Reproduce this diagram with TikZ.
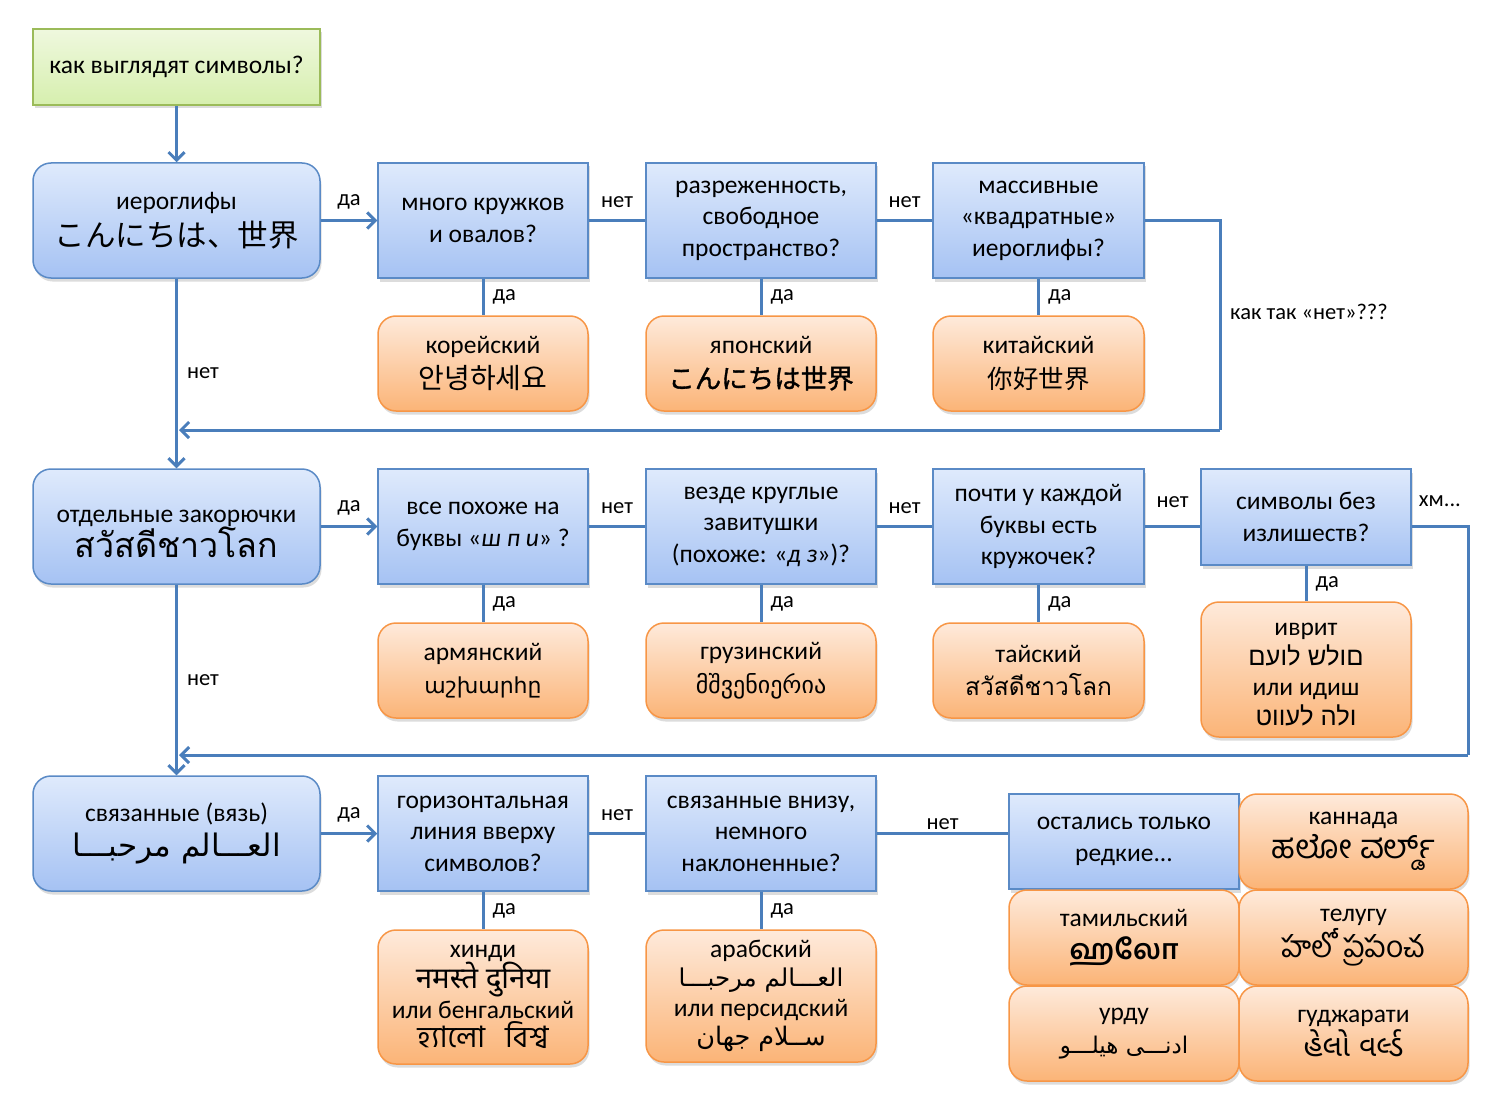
\documentclass[tikz,border=0pt]{standalone}
\usepackage{fontspec}
\setmainfont{Carlito}
\newfontfamily\jpfont{Noto Sans CJK JP}
\newfontfamily\jpfontb[FakeBold=1.3]{Noto Sans CJK JP}
\newfontfamily\krfont{Noto Sans CJK KR}
\newfontfamily\scfont{Noto Sans CJK SC}
\newfontfamily\thaifont[Script=Thai]{Loma}
\newfontfamily\armfont{DejaVu Sans}
\newfontfamily\geofont{DejaVu Sans}
\newfontfamily\hebfont[Script=Hebrew]{Liberation Sans}
\newfontfamily\arfont[Script=Arabic]{DejaVu Sans}
\newfontfamily\devfont[Script=Devanagari]{Noto Sans}
\newfontfamily\bnfont[Script=Bengali]{Hind Siliguri}
\newfontfamily\knfont[Script=Kannada]{Hind Mysuru}
\newfontfamily\tafont[Script=Tamil]{Hind Madurai}
\newfontfamily\tefont[Script=Telugu]{Hind Guntur}
\newfontfamily\gufont[Script=Gujarati]{Noto Sans Gujarati UI}
\TeXXeTstate=1
\usetikzlibrary{arrows.meta,shadows}
\definecolor{bluetop}{HTML}{DFEAFC}
\definecolor{bluebot}{HTML}{A5C2F3}
\definecolor{blueline}{HTML}{5A8AC6}
\definecolor{orangetop}{HTML}{FEEADB}
\definecolor{orangebot}{HTML}{FBB477}
\definecolor{orangeline}{HTML}{F79646}
\definecolor{greentop}{HTML}{EFF8DE}
\definecolor{greenbot}{HTML}{D6EFAE}
\definecolor{greenline}{HTML}{9BBB59}
\definecolor{linkblue}{HTML}{4A7EBB}
\tikzset{
  every node/.style={font=\fontsize{25.5}{31.5}\selectfont, text=black},
  shad/.style={drop shadow={shadow xshift=1.5pt, shadow yshift=-3.5pt, opacity=0.28}},
  qbox/.style={shad, draw=blueline, line width=1.5pt, top color=bluetop, bottom color=bluebot,
    minimum width=210pt, minimum height=115pt, align=center, inner sep=2pt},
  lbox/.style={qbox, rounded corners=18pt, minimum width=287pt},
  abox/.style={shad, draw=orangeline, line width=1.5pt, top color=orangetop, bottom color=orangebot,
    rounded corners=18pt, minimum width=210pt, minimum height=95pt, align=center, inner sep=2pt},
  gbox/.style={shad, draw=greenline, line width=1.5pt, top color=greentop, bottom color=greenbot,
    minimum width=287pt, minimum height=76pt, align=center},
  conn/.style={draw=linkblue, line width=3pt},
  arr/.style={conn, -{Straight Barb[length=8pt,width=16pt]}},
  lbl/.style={font=\fontsize{22.5}{26}\selectfont, inner sep=1pt},
}
\begin{document}
\begin{tikzpicture}[x=1pt,y=-1pt]
\useasboundingbox (0,0) rectangle (1511,1107);

% ---------- nodes ----------
\node[gbox] (top) at (176.5,67) {как выглядят символы?};

\node[lbox] (A1) at (176.5,220.5) {иероглифы\\[6pt]{\jpfont\fontsize{30.5}{34}\selectfont こんにちは、世界}};
\node[qbox] (Q1) at (483,220.5) {много кружков\\и овалов?};
\node[qbox, minimum width=230pt] (Q2) at (761,220.5) {разреженность,\\свободное\\пространство?};
\node[qbox, minimum width=211pt] (Q3) at (1038.5,220.5) {массивные\\«квадратные»\\иероглифы?};

\node[abox] (K) at (483,363.5) {корейский\\[3pt]{\krfont\fontsize{28}{30}\selectfont 안녕하세요}};
\node[abox, minimum width=230pt] (J) at (761,363.5) {японский\\[3pt]{\jpfontb\fontsize{26.5}{30}\selectfont こんにちは世界}};
\node[abox, minimum width=211pt] (C) at (1038.5,363.5) {китайский\\[3pt]{\scfont\fontsize{25.5}{30}\selectfont 你好世界}};

\node[lbox] (A2) at (176.5,526.5) {\rule{0pt}{27pt}отдельные закорючки\\[-1pt]{\thaifont\fontsize{34}{38}\selectfont สวัสดีชาวโลก}};
\node[qbox] (Q4) at (483,526.5) {все похоже на\\буквы «\textit{ш п и}» ?};
\node[qbox, minimum width=230pt] (Q5) at (761,526.5) {везде круглые\\завитушки\\(похоже: «\textit{д з}»)?};
\node[qbox, minimum width=211pt] (Q6) at (1038.5,526.5) {почти у каждой\\буквы есть\\кружочек?};
\node[qbox, minimum height=96pt] (Q7) at (1306,517) {символы без\\излишеств?};

\node[abox] (Arm) at (483,670.5) {армянский\\[2pt]{\armfont\fontsize{22}{30}\selectfont աշխարհը}};
\node[abox, minimum width=230pt] (Geo) at (761,670.5) {грузинский\\[2pt]{\geofont\fontsize{24}{30}\selectfont მშვენიერია}};
\node[abox, minimum width=211pt] (Th) at (1038.5,670.5) {тайский\\[2pt]{\thaifont\fontsize{24.5}{30}\selectfont สวัสดีชาวโลก}};
\node[abox, minimum height=135pt, font=\fontsize{25.5}{30}\selectfont] (Heb) at (1306,669.5) {\rule{0pt}{23pt}иврит\\{\hebfont\beginR םולש לועם\endR}\\или идиш\\{\hebfont\beginR ולה לעווט\endR}};

\node[lbox] (A3) at (176.5,833.5) {связанные (вязь)\\[4pt]{\arfont\fontsize{31}{34}\selectfont\beginR العـــالم مرحبـــا\endR}};
\node[qbox] (Q8) at (483,833.5) {горизонтальная\\линия вверху\\символов?};
\node[qbox, minimum width=230pt] (Q9) at (761,833.5) {связанные внизу,\\немного\\наклоненные?};

\node[abox, minimum height=134pt, font=\fontsize{25.5}{29.5}\selectfont] (Hi) at (483,997) {хинди\\{\devfont\fontsize{29.5}{29.5}\selectfont नमस्ते दुनिया}\\или бенгальский\\{\bnfont\fontsize{29.5}{29.5}\selectfont হ্যালো\hspace{20pt}বিশ্ব}};
\node[abox, minimum width=230pt, minimum height=132pt, font=\fontsize{25.5}{29.5}\selectfont] (Ar) at (761,996) {арабский\\{\arfont\fontsize{24.5}{29.5}\selectfont\beginR العـــالم مرحبـــا\endR}\\или персидский\\{\arfont\fontsize{25.5}{29.5}\selectfont\beginR ســلام جهان\endR}};

\node[qbox, minimum width=230pt, minimum height=95pt] (R) at (1124,841.5) {остались только\\редкие...};
\node[abox, minimum width=229pt] (Kn) at (1353.5,841.5) {каннада\\[2pt]{\knfont\fontsize{33}{30}\selectfont ಹಲೋ ವರ್ಲ್ಡ್}};
\node[abox, minimum width=230pt] (Ta) at (1124,937.5) {тамильский\\[2pt]{\tafont\bfseries\fontsize{28}{30}\selectfont ஹலோ}};
\node[abox, minimum width=229pt] (Te) at (1353.5,937.5) {телугу\\[2pt]{\tefont\fontsize{30}{30}\selectfont హలో ప్రపంచ}};
\node[abox, minimum width=230pt] (Ur) at (1124,1033.5) {урду\\[2pt]{\arfont\fontsize{23}{30}\selectfont\beginR ادنـــی هیلـــو\endR}};
\node[abox, minimum width=229pt] (Gu) at (1353.5,1033.5) {гуджарати\\[2pt]{\gufont\fontsize{30}{30}\selectfont હેલો વર્લ્ડ}};

% ---------- coordinates ----------
\coordinate (c1) at (1220,220.5);
\coordinate (c2) at (1220,430);
\coordinate (c3) at (179,430);
\coordinate (c4) at (1468,526.5);
\coordinate (c5) at (1468,755);
\coordinate (c6) at (179,755);

% ---------- connectors ----------
\draw[arr] (top) -- (A1);
\draw[arr] (A1) -- (Q1) node[lbl, midway, above=9pt] {да};
\draw[conn] (Q1) -- (Q2) node[lbl, midway, above=10pt] {нет};
\draw[conn] (Q2) -- (Q3) node[lbl, midway, above=10pt] {нет};
\draw[conn] (Q3.east) -- (c1) -- (c2);
\draw[arr] (c2) -- (c3);
\draw[conn] (Q1) -- (K) node[lbl, midway, right=7pt] {да};
\draw[conn] (Q2) -- (J) node[lbl, midway, right=7pt] {да};
\draw[conn] (Q3) -- (C) node[lbl, midway, right=7pt] {да};
\draw[arr] (A1) -- (A2) node[lbl, pos=0.5, right=8pt] {нет};
\node[lbl, anchor=west] (kak) at (1229,312) {как так «нет»???};

\draw[arr] (A2) -- (Q4) node[lbl, midway, above=9pt] {да};
\draw[conn] (Q4) -- (Q5) node[lbl, midway, above=10pt] {нет};
\draw[conn] (Q5) -- (Q6) node[lbl, midway, above=10pt] {нет};
\draw[conn] (Q6.east) -- (Q6.east -| Q7.west) node[lbl, midway, above=16pt] {нет};
\draw[conn] (Q7.east |- c4) -- (c4) node[lbl, midway, above=17pt] {хм...} -- (c5);
\draw[arr] (c5) -- (c6);
\draw[conn] (Q4) -- (Arm) node[lbl, midway, right=7pt] {да};
\draw[conn] (Q5) -- (Geo) node[lbl, midway, right=7pt] {да};
\draw[conn] (Q6) -- (Th) node[lbl, midway, right=7pt] {да};
\draw[conn] (Q7) -- (Heb) node[lbl, midway, right=7pt] {да};
\draw[arr] (A2) -- (A3) node[lbl, pos=0.5, right=8pt] {нет};

\draw[arr] (A3) -- (Q8) node[lbl, midway, above=9pt] {да};
\draw[conn] (Q8) -- (Q9) node[lbl, midway, above=10pt] {нет};
\draw[conn] (Q9.east) -- (Q9.east -| R.west) node[lbl, midway, above=1pt] {нет};
\draw[conn] (Q8) -- (Hi) node[lbl, midway, right=7pt] {да};
\draw[conn] (Q9) -- (Ar) node[lbl, midway, right=7pt] {да};
\end{tikzpicture}
\end{document}
